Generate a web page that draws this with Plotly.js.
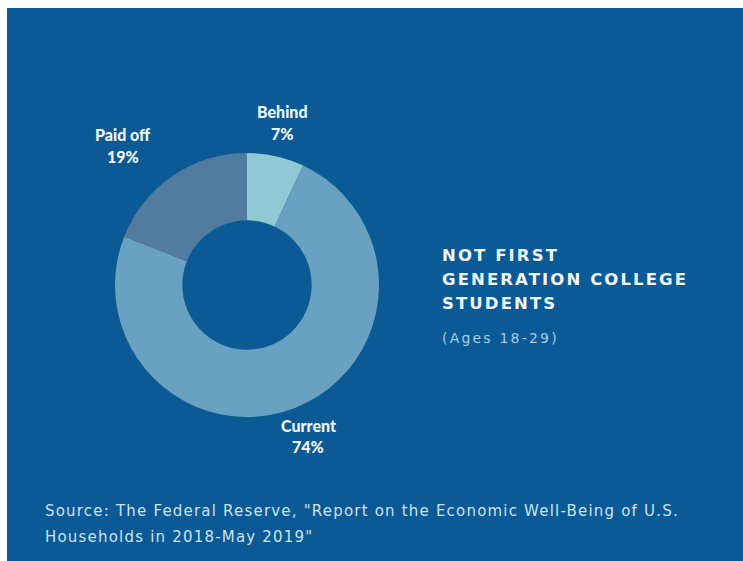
<!DOCTYPE html>
<html>
<head>
<meta charset="utf-8">
<script src="https://cdn.plot.ly/plotly-3.0.1.min.js"></script>
<style>
html,body{margin:0;padding:0;background:#ffffff;}
#chart{position:absolute;left:7px;top:8px;width:736px;height:553px;}
</style>
</head>
<body>
<div id="chart"></div>
<script>
var labels = ['Behind', 'Current', 'Paid off'];
var values = [7, 74, 19];
var sliceColors = ['#8fc9d4', '#69a2c0', '#517b9f'];
var titleLines = ['NOT FIRST', 'GENERATION COLLEGE', 'STUDENTS'];
var subtitle = '(Ages 18-29)';
var sourceLines = ['Source: The Federal Reserve, "Report on the Economic Well-Being of U.S.', 'Households in 2018-May 2019"'];

var W = 736, H = 553;
function px(x){ return (x - 7) / W; }
function py(y){ return 1 - (y - 8) / H; }

// label anchor points (page pixels) for each slice label
var labelPos = [[282, 111, 133], [308, 425, 447], [123, 134, 157]];

var annotations = [];
var spacing = {};
for (var i = 0; i < labels.length; i++) {
  annotations.push({x: px(labelPos[i][0]), y: py(labelPos[i][1]), xref: 'paper', yref: 'paper',
    text: labels[i], showarrow: false, xanchor: 'center', yanchor: 'middle',
    font: {family: 'Lato, "Open Sans", sans-serif', size: 16, weight: 900, color: '#eef6fb'}});
  annotations.push({x: px(labelPos[i][0]), y: py(labelPos[i][2]), xref: 'paper', yref: 'paper',
    text: values[i] + '%', showarrow: false, xanchor: 'center', yanchor: 'middle',
    font: {family: 'Lato, "Open Sans", sans-serif', size: 16, weight: 900, color: '#eef6fb'}});
}
var titleY = [255, 280, 303];
for (var j = 0; j < titleLines.length; j++) {
  spacing[annotations.length] = 2.1;
  annotations.push({x: px(440), y: py(titleY[j]), xref: 'paper', yref: 'paper',
    text: titleLines[j], showarrow: false, xanchor: 'left', yanchor: 'middle',
    font: {family: '"DejaVu Sans", sans-serif', size: 16.5, weight: 700, color: '#f2f7fb'}});
}
spacing[annotations.length] = 2.2;
annotations.push({x: px(440), y: py(338), xref: 'paper', yref: 'paper',
  text: subtitle, showarrow: false, xanchor: 'left', yanchor: 'middle',
  font: {family: '"DejaVu Sans", sans-serif', size: 14, color: '#a9cce2'}});
var srcY = [511, 537];
for (var k = 0; k < sourceLines.length; k++) {
  spacing[annotations.length] = 1.2;
  annotations.push({x: px(43), y: py(srcY[k]), xref: 'paper', yref: 'paper',
    text: sourceLines[k], showarrow: false, xanchor: 'left', yanchor: 'middle',
    font: {family: '"DejaVu Sans", sans-serif', size: 15, color: '#cfe1ee'}});
}

var cx = 247 - 7, cy = 285 - 8, R = 132;
var trace = {
  type: 'pie',
  labels: labels,
  values: values,
  hole: 0.49,
  sort: false,
  direction: 'clockwise',
  rotation: 0,
  textinfo: 'none',
  hoverinfo: 'label+percent',
  marker: {colors: sliceColors, line: {width: 0}},
  domain: {x: [(cx - R) / W, (cx + R) / W], y: [(H - cy - R) / H, (H - cy + R) / H]},
  showlegend: false
};

var layout = {
  width: W, height: H,
  margin: {l: 0, r: 0, t: 0, b: 0},
  paper_bgcolor: '#0b5a96',
  plot_bgcolor: '#0b5a96',
  showlegend: false,
  annotations: annotations
};

Plotly.newPlot('chart', [trace], layout, {displayModeBar: false, staticPlot: true}).then(function(){
  document.querySelectorAll('#chart g.annotation').forEach(function(g){
    var idx = g.getAttribute('data-index');
    if (!(idx in spacing)) return;
    var t = g.querySelector('text.annotation-text');
    if (!t) return;
    var bb = t.getBBox();
    t.style.letterSpacing = spacing[idx] + 'px';
    t.setAttribute('text-anchor', 'start');
    t.style.textAnchor = 'start';
    t.setAttribute('x', bb.x);
  });
});
</script>
</body>
</html>
